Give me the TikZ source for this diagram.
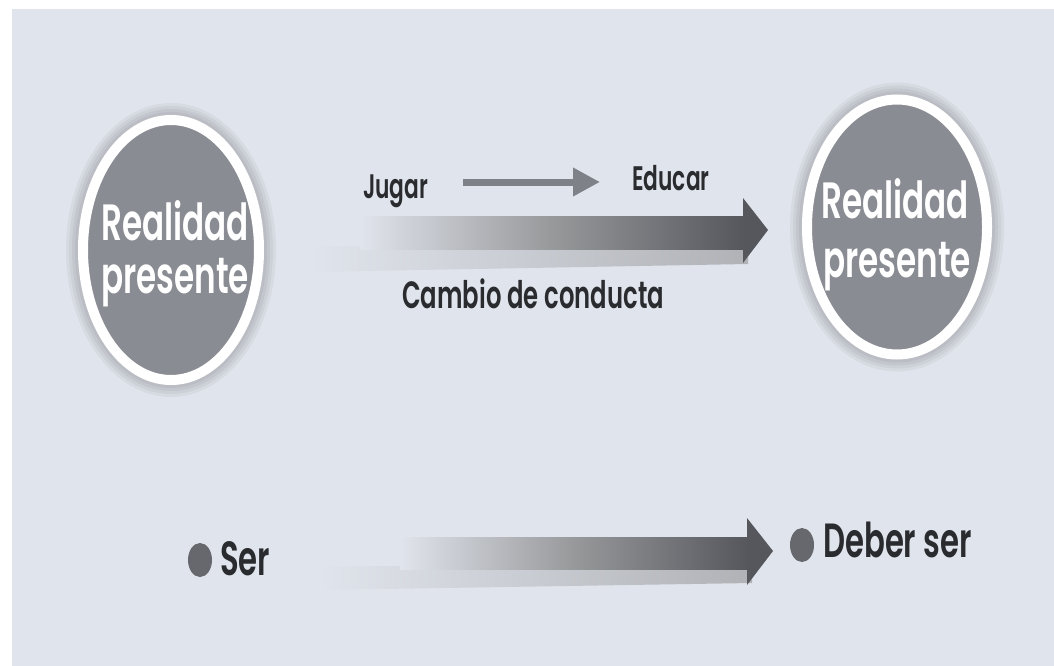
\documentclass[tikz,border=0pt]{standalone}
\usepackage{fontspec}
\setmainfont{Poppins SemiBold}[FakeStretch=0.64]
\usetikzlibrary{shapes.geometric,arrows.meta}
\definecolor{bg}{HTML}{E0E4EC}
\definecolor{circfill}{HTML}{8A8C93}
\definecolor{txt}{HTML}{2A2B2E}
\definecolor{arrdark}{HTML}{55575D}
\definecolor{arrmid}{HTML}{7E8187}
\definecolor{dotc}{HTML}{66686D}
\tikzset{
  bigcirc/.style={ellipse, fill=circfill, draw=white, line width=10pt, inner sep=0pt},
  halo/.style={ellipse, fill=black, opacity=0.045, draw=none, inner sep=0pt},
  circtext/.style={anchor=base, text=white, font=\fontsize{51}{51}\selectfont, inner sep=0pt},
  label/.style={anchor=base west, text=txt, font=\fontsize{#1}{#1}\selectfont, inner sep=0pt},
  bullet/.style={ellipse, fill=dotc, minimum width=24pt, minimum height=34pt, inner sep=0pt},
  smallarr/.style={draw=arrmid, line width=7pt, -{Triangle[length=27pt,width=27pt]}},
}
\begin{document}
\begin{tikzpicture}[x=1pt,y=-1pt]
\useasboundingbox (0,0) rectangle (1054,666);
\fill[white] (0,0) rectangle (1054,666);
\fill[bg] (12,9) rectangle (1054,666);
% halos
\foreach \d in {6,12,18,24}{
  \node[halo, minimum width={186pt+\d pt}, minimum height={270pt+\d pt}] at (171,250) {};
  \node[halo, minimum width={190pt+\d pt}, minimum height={265pt+\d pt}] at (897,227) {};
}
% circles
\node[bigcirc, minimum width=176pt, minimum height=260pt] (L) at (171,250) {};
\node[bigcirc, minimum width=180pt, minimum height=255pt] (R) at (897,227) {};
\node[circtext] (L1) at (175,240) {Realidad};
\node[circtext] (L2) at (175,293) {presente};
\node[circtext] (R1) at (895,218) {Realidad};
\node[circtext] (R2) at (897,277) {presente};
% top big arrow
\shade[left color=bg, right color=gray!50!bg] (310,246) -- (748,246) -- (748,264) -- (310,272) -- cycle;
\shade[left color=bg, right color=arrdark, middle color=gray!75!bg] (360,216) rectangle (744,249);
\fill[arrdark] (743,198) -- (768,230) -- (743,263) -- cycle;
% labels top
\node[label=34] (J) at (363,198) {Jugar};
\node[label=34] (E) at (632,190) {Educar};
\coordinate (sa1) at (463,182);
\coordinate (sa2) at (600,182);
\draw[smallarr] (sa1) -- (sa2);
\node[label=38] (C) at (402,308) {Cambio de conducta};
% bottom big arrow
\shade[left color=bg, right color=gray!50!bg] (320,566) -- (752,566) -- (752,583) -- (320,590) -- cycle;
\shade[left color=bg, right color=arrdark, middle color=gray!75!bg] (400,537) rectangle (748,569);
\fill[arrdark] (747,518) -- (773,551) -- (747,585) -- cycle;
% bottom labels
\node[bullet] (b1) at (200,560) {};
\node[label=48] (S) at (220,575) {Ser};
\node[bullet] (b2) at (802,545) {};
\node[label=48] (D) at (823,557) {Deber ser};
\end{tikzpicture}
\end{document}
